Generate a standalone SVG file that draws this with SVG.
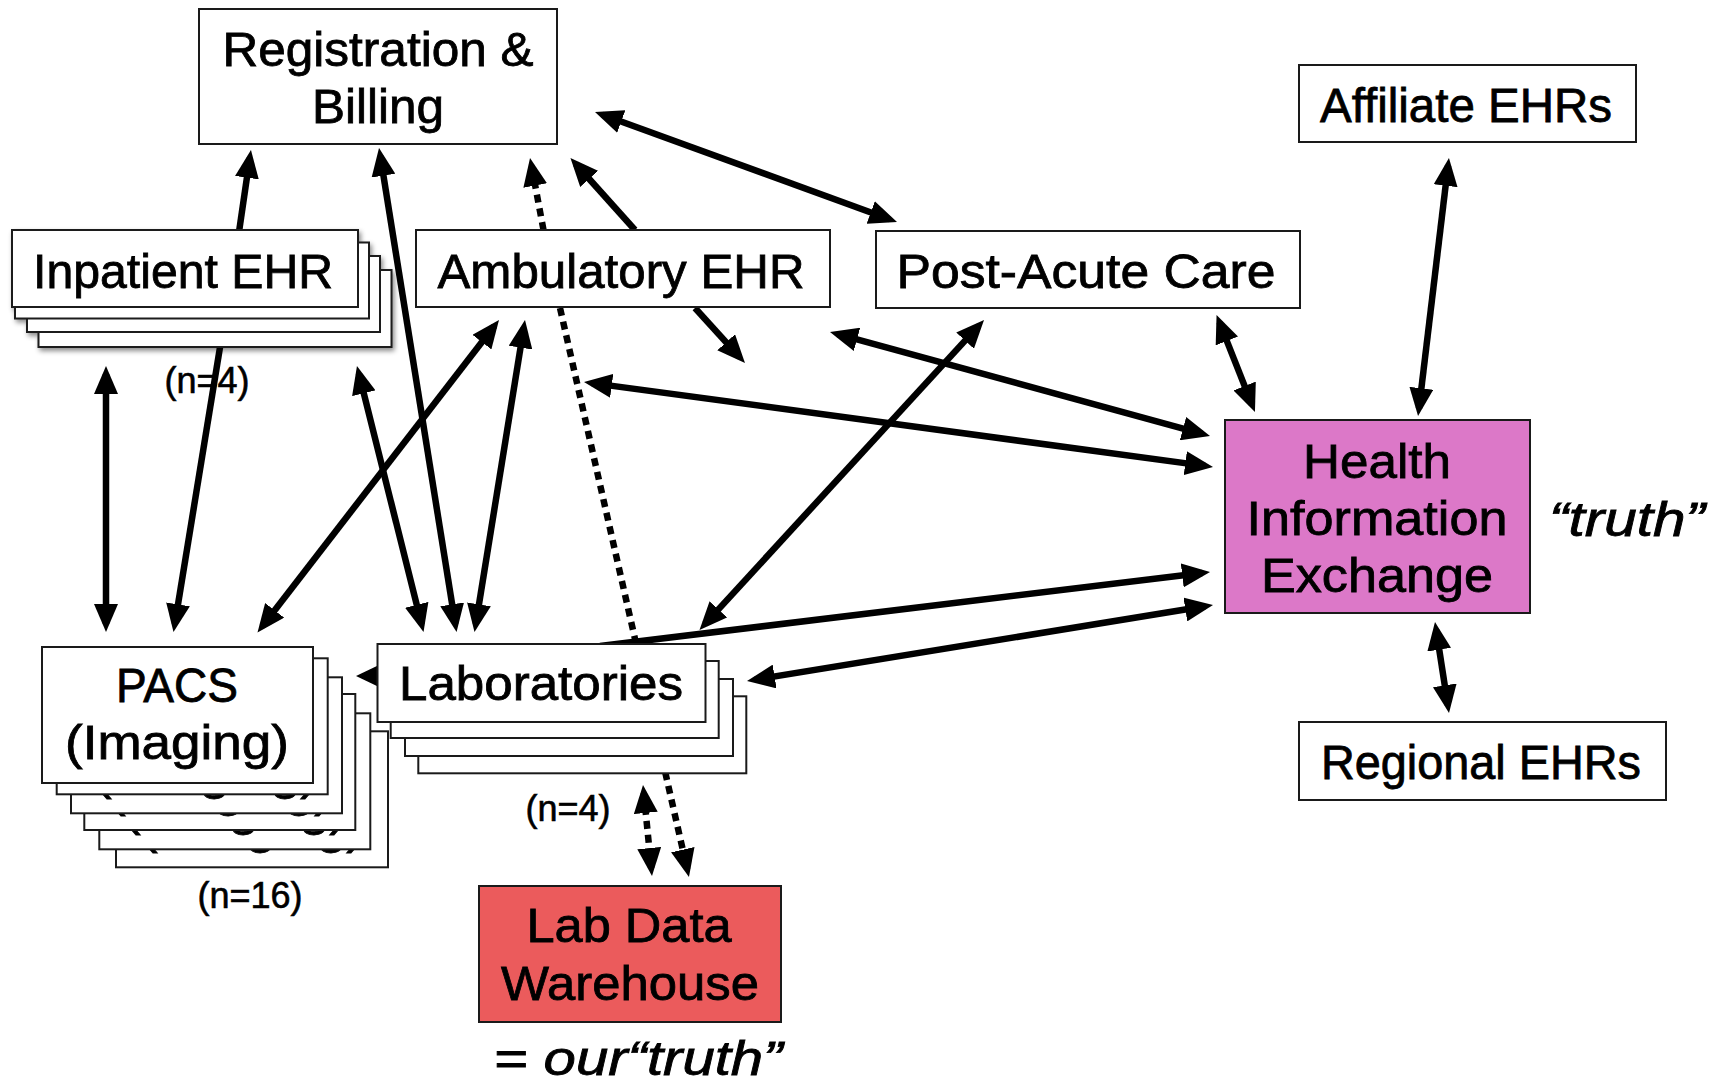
<svg xmlns="http://www.w3.org/2000/svg" width="1722" height="1084" viewBox="0 0 1722 1084">
  <style>
    .box { fill: #ffffff; stroke: #1a1a1a; stroke-width: 2; }
    .hie { fill: #dc78c8; stroke: #1a1a1a; stroke-width: 2; }
    .ldw { fill: #eb5b5c; stroke: #1a1a1a; stroke-width: 2; }
    .lbl { font-family: "Liberation Sans", Arial, sans-serif; font-size: 48px; fill: #000; stroke: #000; stroke-width: 0.8px; text-anchor: middle; }
    .small { font-size: 36px; stroke-width: 0.6px; }
    .ital { font-style: italic; }
    .conn { stroke: #000; stroke-width: 6.5; fill: none; marker-end: url(#ah); }
    .both { marker-start: url(#ah); }
    .dot { stroke-width: 6.5; stroke-dasharray: 8 6; }
  </style>
  <defs>
    <marker id="ah" viewBox="0 0 28 24" refX="20" refY="12" markerWidth="28" markerHeight="24" markerUnits="userSpaceOnUse" orient="auto-start-reverse">
      <path d="M0,0 L28,12 L0,24 Z" fill="#000"/>
    </marker>
    <filter id="shadow" x="-10%" y="-20%" width="120%" height="160%">
      <feDropShadow dx="2" dy="3" stdDeviation="2.5" flood-color="#000" flood-opacity="0.45"/>
    </filter>
  </defs>

  <rect width="1722" height="1084" fill="#ffffff"/>

  <!-- connectors (drawn under the boxes) -->
  <g id="connectors">
    <path class="conn" d="M239,232 L249.8,157.9"/>
    <path class="conn both" d="M380.3,155.9 L455.3,624.1"/>
    <path class="conn both" d="M523.7,327.9 L475.8,624.1"/>
    <path class="conn both" d="M494.1,326.3 L262.4,626.2"/>
    <path class="conn both" d="M106,374 L106,624"/>
    <path class="conn" d="M222,335 L174.8,624.1"/>
    <path class="conn both" d="M358.9,373.8 L421.6,624.2"/>
    <path class="conn dot" d="M543.5,230 L531.5,165.9"/>
    <path class="conn" d="M635,230 L575.8,164"/>
    <path class="conn both" d="M602.5,114.7 L889.5,219.3"/>
    <path class="conn" d="M695,308 L739.6,357.1"/>
    <path class="conn dot" d="M560,308 L687.2,869.2"/>
    <path class="conn dot both" d="M643.8,793 L651.2,868"/>
    <path class="conn both" d="M1219.5,322.4 L1252,404.6"/>
    <path class="conn both" d="M1448,165.9 L1419,408.1"/>
    <path class="conn both" d="M1436.2,629.9 L1447.8,705.1"/>
    <path class="conn both" d="M837.7,334.1 L1202.3,433.9"/>
    <path class="conn both" d="M591.9,383.1 L1205.1,465.9"/>
    <path class="conn both" d="M978.6,325.9 L704.9,624.1"/>
    <path class="conn" d="M600,646 L1202.1,573"/>
    <path class="conn both" d="M754.9,679.7 L1205.1,606.3"/>
    <!-- Laboratories to PACS: head only -->
    <polygon points="356,676 379,665 379,687" fill="#000"/>
  </g>

  <g id="registration-billing">
    <rect class="box" x="199" y="9" width="358" height="135"/>
    <text class="lbl" x="378" y="66" textLength="311" lengthAdjust="spacingAndGlyphs">Registration &amp;</text>
    <text class="lbl" x="378" y="123" textLength="132" lengthAdjust="spacingAndGlyphs">Billing</text>
  </g>

  <g id="inpatient-ehr" filter="url(#shadow)">
    <rect class="box" x="38.5" y="270" width="353" height="77"/>
    <rect class="box" x="27" y="256" width="353" height="76"/>
    <rect class="box" x="15" y="242.5" width="354" height="76"/>
    <rect class="box" x="12" y="230" width="346" height="77"/>
    <text class="lbl" x="183" y="288" textLength="300" lengthAdjust="spacingAndGlyphs">Inpatient EHR</text>
  </g>
  <text class="lbl small" x="207" y="393">(n=4)</text>

  <g id="ambulatory-ehr">
    <rect class="box" x="416" y="230" width="414" height="77"/>
    <text class="lbl" x="621" y="288" textLength="367" lengthAdjust="spacingAndGlyphs">Ambulatory EHR</text>
  </g>

  <g id="post-acute-care">
    <rect class="box" x="876" y="231" width="424" height="77"/>
    <text class="lbl" x="1086" y="288" textLength="379" lengthAdjust="spacingAndGlyphs">Post-Acute Care</text>
  </g>

  <g id="affiliate-ehrs">
    <rect class="box" x="1299" y="65" width="337" height="77"/>
    <text class="lbl" x="1466" y="122" textLength="292" lengthAdjust="spacingAndGlyphs">Affiliate EHRs</text>
  </g>

  <g id="hie">
    <rect class="hie" x="1225" y="420" width="305" height="193"/>
    <text class="lbl" x="1377" y="478" textLength="148" lengthAdjust="spacingAndGlyphs">Health</text>
    <text class="lbl" x="1377" y="535" textLength="261" lengthAdjust="spacingAndGlyphs">Information</text>
    <text class="lbl" x="1377" y="592" textLength="232" lengthAdjust="spacingAndGlyphs">Exchange</text>
  </g>
  <text class="lbl ital" x="1627" y="536" textLength="156" lengthAdjust="spacingAndGlyphs">“truth”</text>

  <g id="regional-ehrs">
    <rect class="box" x="1299" y="722" width="367" height="78"/>
    <text class="lbl" x="1481" y="779" textLength="320" lengthAdjust="spacingAndGlyphs">Regional EHRs</text>
  </g>

  <!-- PACS: stack of copies; only the lower edge of each copy's label peeks out -->
  <g id="pacs">
    <rect class="box" x="116" y="731.3" width="272" height="136"/>
    <text class="lbl" x="252" y="843" textLength="224" lengthAdjust="spacingAndGlyphs">(Imaging)</text>
    <rect class="box" x="99.3" y="713.3" width="271" height="136"/>
    <text class="lbl" x="235" y="825" textLength="224" lengthAdjust="spacingAndGlyphs">(Imaging)</text>
    <rect class="box" x="84.3" y="694" width="271" height="136"/>
    <text class="lbl" x="220" y="806" textLength="224" lengthAdjust="spacingAndGlyphs">(Imaging)</text>
    <rect class="box" x="71" y="677.3" width="271" height="136"/>
    <text class="lbl" x="206" y="789" textLength="224" lengthAdjust="spacingAndGlyphs">(Imaging)</text>
    <rect class="box" x="56.7" y="658.3" width="271" height="136"/>
    <text class="lbl" x="192" y="772" textLength="224" lengthAdjust="spacingAndGlyphs">(Imaging)</text>
    <rect class="box" x="42" y="647" width="271" height="136"/>
    <text class="lbl" x="177" y="702" textLength="122" lengthAdjust="spacingAndGlyphs">PACS</text>
    <text class="lbl" x="177" y="759" textLength="224" lengthAdjust="spacingAndGlyphs">(Imaging)</text>
  </g>
  <text class="lbl small" x="250" y="908">(n=16)</text>

  <g id="laboratories">
    <rect class="box" x="418.3" y="696.3" width="328" height="77"/>
    <rect class="box" x="405" y="679" width="328" height="77"/>
    <rect class="box" x="390.7" y="661" width="328" height="77"/>
    <rect class="box" x="377.5" y="644" width="328" height="78"/>
    <text class="lbl" x="541" y="700" textLength="284" lengthAdjust="spacingAndGlyphs">Laboratories</text>
  </g>
  <text class="lbl small" x="568" y="821">(n=4)</text>

  <g id="lab-data-warehouse">
    <rect class="ldw" x="479" y="886" width="302" height="136"/>
    <text class="lbl" x="629" y="942" textLength="205" lengthAdjust="spacingAndGlyphs">Lab Data</text>
    <text class="lbl" x="630" y="1000" textLength="258" lengthAdjust="spacingAndGlyphs">Warehouse</text>
  </g>
  <text class="lbl ital" x="638" y="1075" textLength="289" lengthAdjust="spacingAndGlyphs">= our“truth”</text>
</svg>
